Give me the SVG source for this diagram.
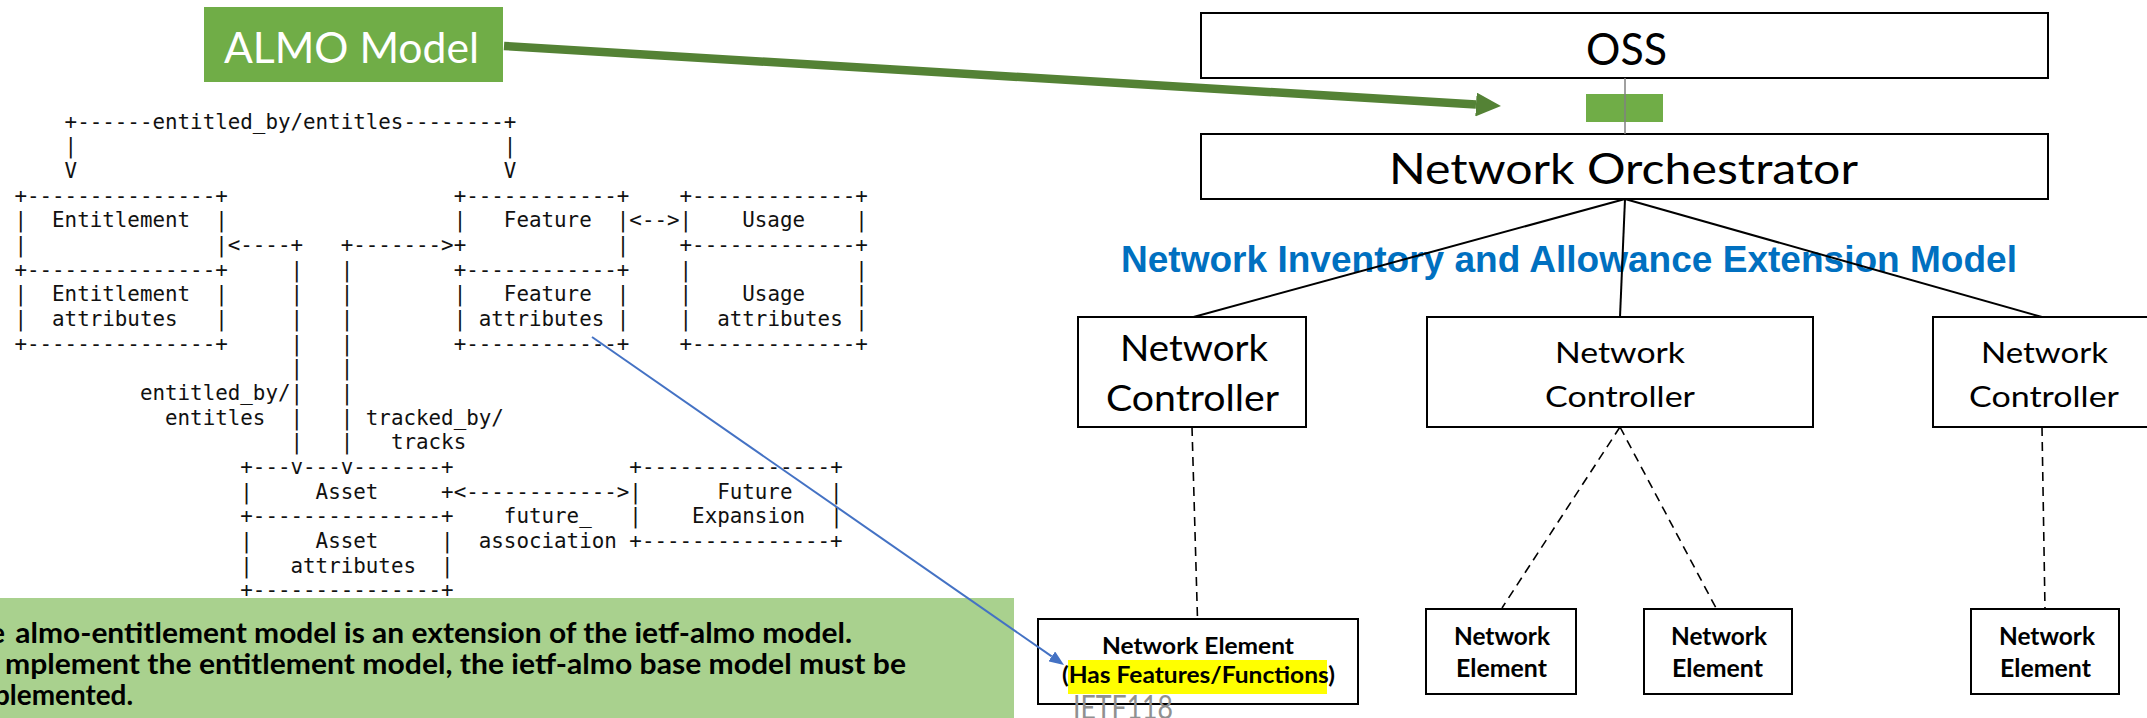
<svg xmlns="http://www.w3.org/2000/svg" width="2147" height="718" viewBox="0 0 2147 718">
<defs>
<style>
.asc{font-family:"DejaVu Sans Mono","Liberation Mono",monospace;font-size:20.85px;fill:#111;white-space:pre}
.box{fill:#fff;stroke:#000;stroke-width:2}
.cal{font-family:Lato,"Open Sans",sans-serif;fill:#000}
.calb{font-family:Lato,"Open Sans",sans-serif;font-weight:bold;fill:#000}
.solid{stroke:#000;stroke-width:2;fill:none}
.dash{stroke:#000;stroke-width:1.6;fill:none;stroke-dasharray:9 6}
</style>
<marker id="greenHead" markerUnits="userSpaceOnUse" markerWidth="25" markerHeight="24" refX="0" refY="12" orient="auto" viewBox="0 0 25 24"><path d="M0,0 L25,12 L0,24 z" fill="#548235"/></marker>
<marker id="blueHead" markerUnits="userSpaceOnUse" markerWidth="15" markerHeight="12" refX="0" refY="6" orient="auto" viewBox="0 0 15 12"><path d="M0,0 L15,6 L0,12 z" fill="#4472C4"/></marker>
</defs>
<rect width="2147" height="718" fill="#fff"/>

<g id="ascii-art" xml:space="preserve">
<text class="asc" y="128.5"><tspan x="64.6">+------entitled_by/entitles--------+</tspan></text>
<text class="asc" y="153.2"><tspan x="64.6">|</tspan><tspan x="503.85">|</tspan></text>
<text class="asc" y="177.8"><tspan x="64.6">V</tspan><tspan x="503.85">V</tspan></text>
<text class="asc" y="202.5"><tspan x="14.4">+---------------+</tspan><tspan x="453.65">+------------+</tspan><tspan x="679.55">+-------------+</tspan></text>
<text class="asc" y="227.2"><tspan x="14.4">|  Entitlement  |</tspan><tspan x="453.65">|   Feature  |&lt;--&gt;|    Usage    |</tspan></text>
<text class="asc" y="251.8"><tspan x="14.4">|               |&lt;----+</tspan><tspan x="340.7">+-------&gt;+</tspan><tspan x="616.8">|</tspan><tspan x="679.55">+-------------+</tspan></text>
<text class="asc" y="276.5"><tspan x="14.4">+---------------+</tspan><tspan x="290.5">|</tspan><tspan x="340.7">|</tspan><tspan x="453.65">+------------+</tspan><tspan x="679.55">|</tspan><tspan x="855.25">|</tspan></text>
<text class="asc" y="301.2"><tspan x="14.4">|  Entitlement  |</tspan><tspan x="290.5">|</tspan><tspan x="340.7">|</tspan><tspan x="453.65">|   Feature  |</tspan><tspan x="679.55">|    Usage    |</tspan></text>
<text class="asc" y="325.9"><tspan x="14.4">|  attributes   |</tspan><tspan x="290.5">|</tspan><tspan x="340.7">|</tspan><tspan x="453.65">| attributes |</tspan><tspan x="679.55">|  attributes |</tspan></text>
<text class="asc" y="350.5"><tspan x="14.4">+---------------+</tspan><tspan x="290.5">|</tspan><tspan x="340.7">|</tspan><tspan x="453.65">+------------+</tspan><tspan x="679.55">+-------------+</tspan></text>
<text class="asc" y="375.2"><tspan x="290.5">|</tspan><tspan x="340.7">|</tspan></text>
<text class="asc" y="399.9"><tspan x="139.9">entitled_by/|</tspan><tspan x="340.7">|</tspan></text>
<text class="asc" y="424.5"><tspan x="165">entitles  |</tspan><tspan x="340.7">| tracked_by/</tspan></text>
<text class="asc" y="449.2"><tspan x="290.5">|</tspan><tspan x="340.7">|   tracks</tspan></text>
<text class="asc" y="473.9"><tspan x="240.3">+---v---v-------+</tspan><tspan x="629.35">+---------------+</tspan></text>
<text class="asc" y="498.5"><tspan x="240.3">|     Asset     +&lt;------------&gt;|      Future   |</tspan></text>
<text class="asc" y="523.2"><tspan x="240.3">+---------------+</tspan><tspan x="503.85">future_</tspan><tspan x="629.35">|    Expansion  |</tspan></text>
<text class="asc" y="547.9"><tspan x="240.3">|     Asset     |</tspan><tspan x="478.75">association +---------------+</tspan></text>
<text class="asc" y="572.5"><tspan x="240.3">|   attributes  |</tspan></text>
<text class="asc" y="597.2"><tspan x="240.3">+---------------+</tspan></text>
</g>

<g id="almo-model">
<rect x="204" y="7" width="299" height="75" fill="#70AD47"/>
<text class="cal" x="224" y="63" font-size="43" style="fill:#fff" textLength="255" lengthAdjust="spacingAndGlyphs">ALMO Model</text>
</g>

<g id="oss">
<rect class="box" x="1201" y="13" width="847" height="65"/>
<text class="cal" x="1586" y="65" font-size="45" textLength="81" lengthAdjust="spacingAndGlyphs">OSS</text>
</g>

<g id="interface">
<rect x="1586" y="94" width="77" height="28" fill="#70AD47"/>
</g>

<g id="orchestrator">
<rect class="box" x="1201" y="134" width="847" height="65"/>
<text class="cal" x="1389" y="184" font-size="43" textLength="469" lengthAdjust="spacingAndGlyphs">Network Orchestrator</text>
</g>

<g id="model-title">
<text x="1121" y="272" font-family="Liberation Sans, Arial, sans-serif" font-weight="bold" font-size="37" fill="#0070C0" textLength="896" lengthAdjust="spacingAndGlyphs">Network Inventory and Allowance Extension Model</text>
</g>

<g id="controller-1">
<rect class="box" x="1078" y="317" width="228" height="110"/>
<text class="cal" x="1120" y="361" font-size="37" textLength="148" lengthAdjust="spacingAndGlyphs">Network</text>
<text class="cal" x="1106" y="411" font-size="37" textLength="173" lengthAdjust="spacingAndGlyphs">Controller</text>
</g>
<g id="controller-2">
<rect class="box" x="1427" y="317" width="386" height="110"/>
<text class="cal" x="1555" y="363" font-size="29" textLength="130" lengthAdjust="spacingAndGlyphs">Network</text>
<text class="cal" x="1545" y="407" font-size="29" textLength="150" lengthAdjust="spacingAndGlyphs">Controller</text>
</g>
<g id="controller-3">
<rect class="box" x="1933" y="317" width="224" height="110"/>
<text class="cal" x="1981" y="363" font-size="29" textLength="127" lengthAdjust="spacingAndGlyphs">Network</text>
<text class="cal" x="1969" y="407" font-size="29" textLength="150" lengthAdjust="spacingAndGlyphs">Controller</text>
</g>

<g id="element-1">
<rect class="box" x="1038" y="619" width="320" height="85"/>
<rect x="1068" y="660" width="259" height="34" fill="#FFFF00"/>
<text class="calb" x="1102" y="654" font-size="23" textLength="192" lengthAdjust="spacingAndGlyphs">Network Element</text>
<text class="calb" x="1062" y="683" font-size="23" textLength="273" lengthAdjust="spacingAndGlyphs">(Has Features/Functions)</text>
</g>
<g id="element-2">
<rect class="box" x="1426" y="609" width="150" height="85"/>
<text class="calb" x="1454" y="645" font-size="25" textLength="96" lengthAdjust="spacingAndGlyphs">Network</text>
<text class="calb" x="1456" y="677" font-size="25" textLength="91" lengthAdjust="spacingAndGlyphs">Element</text>
</g>
<g id="element-3">
<rect class="box" x="1644" y="609" width="148" height="85"/>
<text class="calb" x="1671" y="645" font-size="25" textLength="96" lengthAdjust="spacingAndGlyphs">Network</text>
<text class="calb" x="1672" y="677" font-size="25" textLength="91" lengthAdjust="spacingAndGlyphs">Element</text>
</g>
<g id="element-4">
<rect class="box" x="1971" y="609" width="148" height="85"/>
<text class="calb" x="1999" y="645" font-size="25" textLength="96" lengthAdjust="spacingAndGlyphs">Network</text>
<text class="calb" x="2000" y="677" font-size="25" textLength="91" lengthAdjust="spacingAndGlyphs">Element</text>
</g>

<g id="note" xml:space="preserve">
<rect x="-2" y="598" width="1016" height="122" fill="#A9D18E"/>
<text class="calb" y="643" font-size="28"><tspan x="5" text-anchor="end">The</tspan><tspan x="8" textLength="844" lengthAdjust="spacingAndGlyphs"> almo-entitlement model is an extension of the ietf-almo model.</tspan></text>
<text class="calb" y="674" font-size="28"><tspan x="-1" text-anchor="end">To i</tspan><tspan x="5" textLength="901" lengthAdjust="spacingAndGlyphs">mplement the entitlement model, the ietf-almo base model must be</tspan></text>
<text class="calb" y="705" font-size="28"><tspan x="-6" text-anchor="end">im</tspan><tspan x="-6" textLength="139" lengthAdjust="spacingAndGlyphs">plemented.</tspan></text>
</g>

<g id="footer">
<text x="1073" y="719" font-family="Lato, sans-serif" font-size="33" fill="#909090" textLength="100" lengthAdjust="spacingAndGlyphs">IETF118</text>
</g>

<g id="connectors">
<line x1="1625" y1="78" x2="1625" y2="134" stroke="#808080" stroke-width="1.5"/>
<line class="solid" x1="1625" y1="199" x2="1193.5" y2="317"/>
<line class="solid" x1="1625" y1="199" x2="1620" y2="317"/>
<line class="solid" x1="1625" y1="199" x2="2042" y2="317"/>
<line class="dash" x1="1192" y1="427" x2="1197.5" y2="619"/>
<line class="dash" x1="1620" y1="427" x2="1502" y2="608"/>
<line class="dash" x1="1620" y1="427" x2="1716" y2="608"/>
<line class="dash" x1="2042" y1="427" x2="2045" y2="609"/>
<line x1="504" y1="46" x2="1476" y2="104.5" stroke="#548235" stroke-width="8.5" marker-end="url(#greenHead)"/>
<line x1="592" y1="337" x2="1051.7" y2="656.4" stroke="#4472C4" stroke-width="2" marker-end="url(#blueHead)"/>
</g>
</svg>
